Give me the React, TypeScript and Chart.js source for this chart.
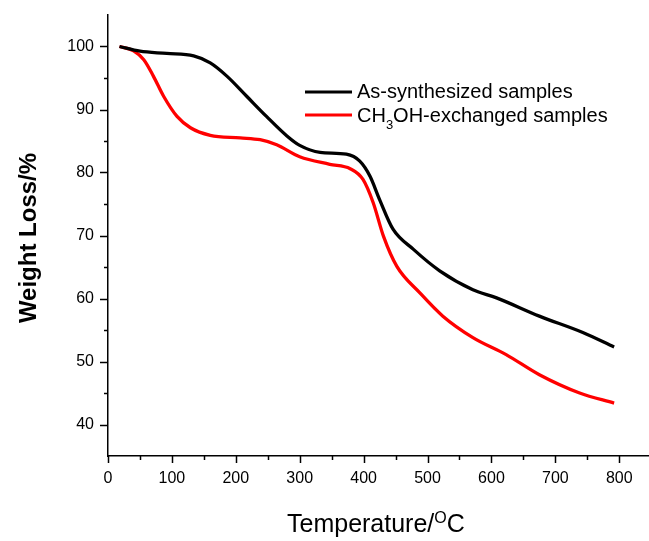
import React, { useEffect, useRef } from "react";
import { Chart, registerables } from "chart.js";

Chart.register(...registerables);

const seriesNames = ["As-synthesized samples", "CH3OH-exchanged samples"];

const blackT = [18, 50, 92, 134, 160, 186, 217, 248, 280, 300, 332, 373, 394, 410, 425, 446, 478, 519, 571, 608, 675, 743, 792];
const blackV = [100, 99.25, 98.9, 98.5, 97.4, 95.3, 92.1, 88.9, 85.8, 84.3, 83.2, 82.9, 81.8, 79.4, 75.7, 71, 67.8, 64.4, 61.4, 60.1, 57.2, 54.6, 52.3];

const redT = [18, 40, 56, 71, 87, 108, 129, 160, 207, 238, 264, 300, 347, 379, 399, 415, 431, 452, 488, 524, 571, 623, 675, 738, 792];
const redV = [100, 99.3, 97.9, 95.3, 92.1, 88.9, 87.1, 85.9, 85.5, 85.2, 84.4, 82.5, 81.3, 80.6, 78.9, 75.2, 69.9, 65.1, 60.9, 57.2, 53.8, 51.1, 47.9, 45.0, 43.4];

const xTicks = [0, 100, 200, 300, 400, 500, 600, 700, 800];
const xMinorTicks = [50, 150, 250, 350, 450, 550, 650, 750];
const yTicks = [40, 50, 60, 70, 80, 90, 100];
const yMinorTicks = [45, 55, 65, 75, 85, 95];

const FONT = "'Liberation Sans', Arial, sans-serif";

const decorPlugin = {
  id: "decor",
  afterDraw(chart: any) {
    const ctx = chart.ctx;
    const xs = chart.scales.x;
    const ys = chart.scales.y;
    const area = chart.chartArea;
    ctx.save();
    ctx.strokeStyle = "#000";
    ctx.lineWidth = 1.5;
    const xb = area.bottom;
    xTicks.forEach((t) => {
      const px = Math.round(xs.getPixelForValue(t)) + 0.5;
      ctx.beginPath();
      ctx.moveTo(px, xb);
      ctx.lineTo(px, xb + 7);
      ctx.stroke();
    });
    xMinorTicks.forEach((t) => {
      const px = Math.round(xs.getPixelForValue(t)) + 0.5;
      ctx.beginPath();
      ctx.moveTo(px, xb);
      ctx.lineTo(px, xb + 4);
      ctx.stroke();
    });
    const yl = area.left;
    yTicks.forEach((t) => {
      const py = Math.round(ys.getPixelForValue(t)) + 0.5;
      ctx.beginPath();
      ctx.moveTo(yl, py);
      ctx.lineTo(yl - 8, py);
      ctx.stroke();
    });
    yMinorTicks.forEach((t) => {
      const py = Math.round(ys.getPixelForValue(t)) + 0.5;
      ctx.beginPath();
      ctx.moveTo(yl, py);
      ctx.lineTo(yl - 4, py);
      ctx.stroke();
    });

    // legend
    ctx.lineWidth = 3;
    ctx.strokeStyle = "#000";
    ctx.beginPath();
    ctx.moveTo(305, 92);
    ctx.lineTo(352, 92);
    ctx.stroke();
    ctx.strokeStyle = "#ff0000";
    ctx.beginPath();
    ctx.moveTo(305, 115);
    ctx.lineTo(352, 115);
    ctx.stroke();

    ctx.fillStyle = "#000";
    ctx.textAlign = "left";
    ctx.textBaseline = "alphabetic";
    ctx.font = `20px ${FONT}`;
    ctx.fillText(seriesNames[0], 357, 98);
    let x = 357;
    ctx.fillText("CH", x, 122);
    x += ctx.measureText("CH").width;
    ctx.font = `13px ${FONT}`;
    ctx.fillText("3", x, 129);
    x += ctx.measureText("3").width;
    ctx.font = `20px ${FONT}`;
    ctx.fillText("OH-exchanged samples", x, 122);

    // x title
    ctx.font = `25px ${FONT}`;
    let tx = 287;
    ctx.fillText("Temperature/", tx, 532);
    tx += ctx.measureText("Temperature/").width;
    ctx.font = `16px ${FONT}`;
    ctx.fillText("O", tx, 523);
    tx += ctx.measureText("O").width;
    ctx.font = `25px ${FONT}`;
    ctx.fillText("C", tx, 532);

    // y title
    ctx.save();
    ctx.translate(36, 238);
    ctx.rotate(-Math.PI / 2);
    ctx.textAlign = "center";
    ctx.font = `bold 24px ${FONT}`;
    ctx.fillText("Weight Loss/%", 0, 0);
    ctx.restore();

    ctx.restore();
  },
};

export default function App() {
  const ref = useRef<HTMLCanvasElement | null>(null);
  useEffect(() => {
    if (!ref.current) return;
    const chart = new Chart(ref.current, {
      type: "line",
      data: {
        datasets: [
          {
            label: seriesNames[0],
            data: blackT.map((t, i) => ({ x: t, y: blackV[i] })),
            borderColor: "#000000",
            backgroundColor: "#000000",
            borderWidth: 3.3,
            pointRadius: 0,
            cubicInterpolationMode: "monotone",
          },
          {
            label: seriesNames[1],
            data: redT.map((t, i) => ({ x: t, y: redV[i] })),
            borderColor: "#ff0000",
            backgroundColor: "#ff0000",
            borderWidth: 3.3,
            pointRadius: 0,
            cubicInterpolationMode: "monotone",
          },
        ],
      },
      options: {
        responsive: false,
        animation: false,
        layout: { padding: { left: 0, top: 15, right: 1, bottom: 0 } },
        plugins: { legend: { display: false }, tooltip: { enabled: false } },
        scales: {
          x: {
            type: "linear",
            min: 0,
            max: 845,
            grid: { display: false, drawTicks: false },
            border: { display: true, color: "#000", width: 1.5 },
            afterBuildTicks: (s: any) => {
              s.ticks = xTicks.map((v) => ({ value: v }));
            },
            afterFit: (s: any) => {
              s.height = 85;
              s.paddingLeft = 0;
              s.paddingRight = 0;
            },
            ticks: {
              color: "#000",
              padding: 13,
              maxRotation: 0,
              font: { family: FONT, size: 16 },
              callback: (v: any) => String(v),
            },
          },
          y: {
            type: "linear",
            min: 35,
            max: 105,
            grid: { display: false, drawTicks: false },
            border: { display: true, color: "#000", width: 1.5 },
            afterBuildTicks: (s: any) => {
              s.ticks = yTicks.map((v) => ({ value: v }));
            },
            afterFit: (s: any) => {
              s.width = 108;
              s.paddingTop = 0;
              s.paddingBottom = 0;
            },
            ticks: {
              color: "#000",
              padding: 14,
              font: { family: FONT, size: 16 },
              callback: (v: any) => String(v),
            },
          },
        },
      },
      plugins: [decorPlugin],
    });
    return () => chart.destroy();
  }, []);
  return (
    <div style={{ position: "fixed", left: 0, top: 0, width: 649, height: 541, background: "#fff" }}>
      <canvas ref={ref} width={649} height={541} style={{ width: 649, height: 541 }} />
    </div>
  );
}
